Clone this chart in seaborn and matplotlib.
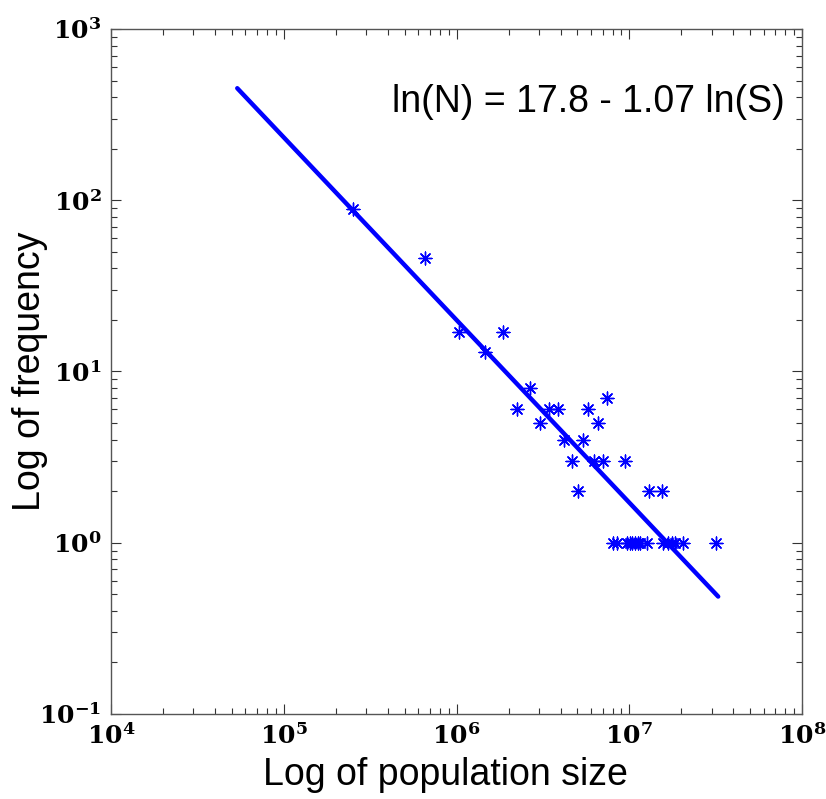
import numpy as np
import pandas as pd
import matplotlib
matplotlib.use("Agg")
import matplotlib.pyplot as plt
import seaborn as sns

# observed points (population size, number of occurrences)
pop_size = [2.53e5, 6.57e5, 1.03e6, 1.85e6, 1.46e6, 2.66e6, 7.4e6,
            2.23e6, 3.44e6, 3.88e6, 5.8e6, 3.04e6, 6.62e6, 4.21e6, 5.38e6,
            4.65e6, 6.28e6, 7.08e6, 9.44e6, 5.03e6, 1.30e7, 1.54e7,
            8.05e6, 8.5e6, 9.7e6, 1.003e7, 1.04e7, 1.08e7, 1.12e7, 1.15e7,
            1.27e7, 1.57e7, 1.67e7, 1.77e7, 1.84e7, 2.05e7, 3.17e7]
frequency = [89, 46, 17, 17, 13, 8, 7,
             6, 6, 6, 6, 5, 5, 4, 4,
             3, 3, 3, 3, 2, 2, 2,
             1, 1, 1, 1, 1, 1, 1, 1,
             1, 1, 1, 1, 1, 1, 1]

# fitted line end points
fit_x = [5.38e4, 3.27e7]
fit_y = [451, 0.485]

x_ticks = [1e4, 1e5, 1e6, 1e7, 1e8]
x_ticklabels = [r'$\mathdefault{10^{4}}$', r'$\mathdefault{10^{5}}$', r'$\mathdefault{10^{6}}$',
                r'$\mathdefault{10^{7}}$', r'$\mathdefault{10^{8}}$']
y_ticks = [1e-1, 1e0, 1e1, 1e2, 1e3]
y_ticklabels = [r'$\mathdefault{10^{-1}}$', r'$\mathdefault{10^{0}}$', r'$\mathdefault{10^{1}}$',
                r'$\mathdefault{10^{2}}$', r'$\mathdefault{10^{3}}$']

sns.set_style("ticks")
plt.rcParams['font.family'] = ['Liberation Sans', 'DejaVu Sans']
plt.rcParams['text.color'] = 'black'
plt.rcParams['axes.labelcolor'] = 'black'
plt.rcParams['xtick.direction'] = 'in'
plt.rcParams['ytick.direction'] = 'in'
plt.rcParams['xtick.top'] = True
plt.rcParams['ytick.right'] = True

pts = pd.DataFrame({'size': pop_size, 'freq': frequency})
fit = pd.DataFrame({'size': fit_x, 'freq': fit_y})

fig = plt.figure(figsize=(8.26, 7.99), dpi=100)
ax = fig.add_axes([0.1344, 0.1064, 0.8366, 0.8573])
ax.set_xscale('log')
ax.set_yscale('log')

sns.lineplot(data=fit, x='size', y='freq', color='#0000ff', linewidth=3.2, ax=ax)
sns.scatterplot(data=pts, x='size', y='freq', marker=(8, 2, 0), s=85,
                color='#0000ff', edgecolor='#0000ff', linewidth=1.0, ax=ax, zorder=3)

ax.set_xlim(1e4, 1e8)
ax.set_ylim(1e-1, 1e3)
ax.set_xticks(x_ticks)
ax.set_xticklabels(x_ticklabels, fontfamily='DejaVu Serif', fontweight='bold', fontsize=18)
ax.set_yticks(y_ticks)
ax.set_yticklabels(y_ticklabels, fontfamily='DejaVu Serif', fontweight='bold', fontsize=18)
ax.tick_params(which='major', length=7, width=0.8, pad=7, colors='#333333', labelcolor='black')
ax.tick_params(which='minor', length=4, width=0.8, colors='#333333')
for sp in ax.spines.values():
    sp.set_color('#555555')
    sp.set_linewidth(1.0)

ax.set_xlabel('Log of population size', fontsize=27)
ax.set_ylabel('Log of frequency', fontsize=27)
ax.xaxis.set_label_coords(0.484, -0.063)
ax.yaxis.set_label_coords(-0.091, 0.5)
ax.text(0.975, 0.893, 'ln(N) = 17.8 - 1.07 ln(S)', transform=ax.transAxes,
        ha='right', va='center', fontsize=27)

plt.savefig('out.png', dpi=100)
plt.close()
